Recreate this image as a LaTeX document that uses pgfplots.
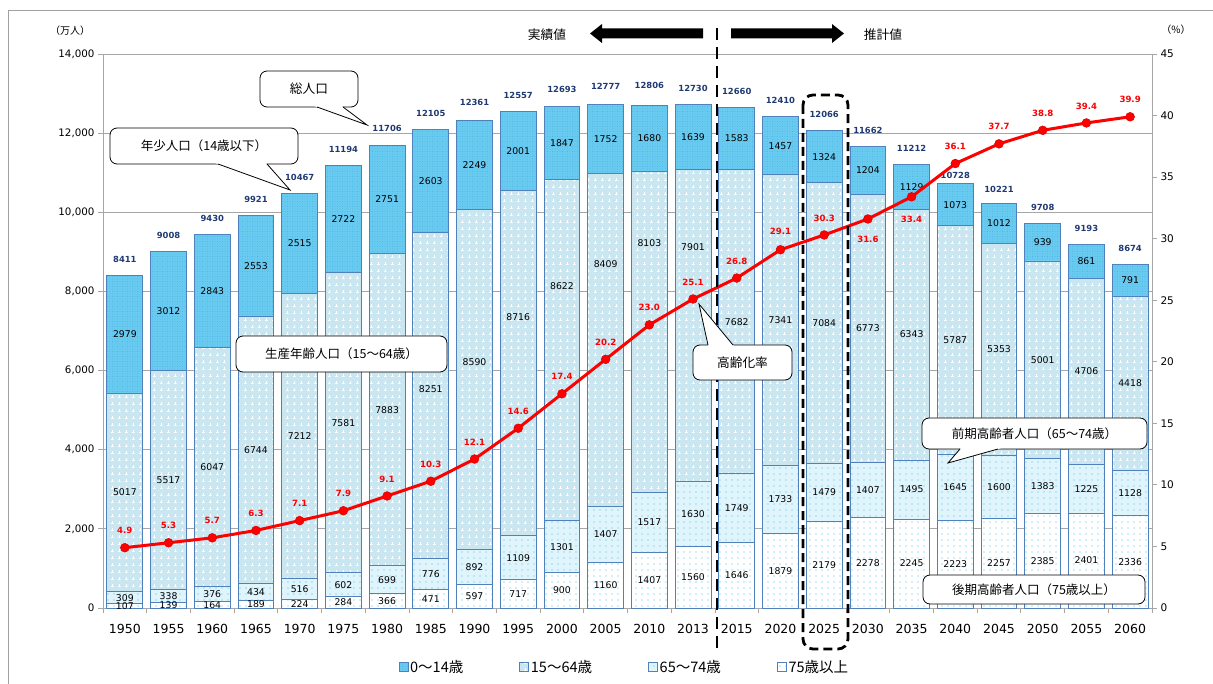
\documentclass[border=0pt]{standalone}
\usepackage{pgfplots}
\pgfplotsset{compat=1.18}
\usepackage{pgfplotstable}
\usetikzlibrary{patterns,calc}
\usepackage{fontspec}
\setmainfont{DejaVu Sans}
\newfontfamily\jp{Noto Sans CJK JP}

\definecolor{cA}{HTML}{6ACBF1}
\definecolor{cAd}{HTML}{3FA9DD}
\definecolor{cB}{HTML}{C9E6F1}
\definecolor{cC}{HTML}{E0F4FB}
\definecolor{cD}{HTML}{FFFFFF}
\definecolor{dotc}{HTML}{3DB8EC}
\definecolor{edge}{HTML}{4F81BD}
\definecolor{tot}{HTML}{1F3A73}
\definecolor{gridc}{HTML}{A6A6A6}
\definecolor{framec}{HTML}{A0A0A0}

\pgfdeclarepatternformonly{sdots}{\pgfqpoint{-1pt}{-1pt}}{\pgfqpoint{1pt}{1pt}}{\pgfqpoint{6pt}{6pt}}{%
  \pgfpathcircle{\pgfqpoint{0pt}{0pt}}{0.7pt}\pgfusepath{fill}}
\pgfdeclarepatternformonly{splus}{\pgfqpoint{-1.6pt}{-1.6pt}}{\pgfqpoint{1.6pt}{1.6pt}}{\pgfqpoint{7pt}{7pt}}{%
  \pgfsetlinewidth{0.5pt}\pgfpathmoveto{\pgfqpoint{-1.5pt}{0pt}}\pgfpathlineto{\pgfqpoint{1.5pt}{0pt}}%
  \pgfpathmoveto{\pgfqpoint{0pt}{-1.5pt}}\pgfpathlineto{\pgfqpoint{0pt}{1.5pt}}\pgfusepath{stroke}}
\pgfdeclarepatternformonly{fdots}{\pgfqpoint{-0.6pt}{-0.6pt}}{\pgfqpoint{0.6pt}{0.6pt}}{\pgfqpoint{2.5pt}{2.5pt}}{%
  \pgfpathcircle{\pgfqpoint{0pt}{0pt}}{0.45pt}\pgfusepath{fill}}

% a = 0-14, b = 15-64, c = 65-74, d = 75+, tot = total, rate = ageing rate (%)
% bo = label shift (pt) of the 15-64 label, ro = of the rate label, to = of the total label
\pgfplotstableread{
x year a b c d tot rate bo ro to
0 1950 2979 5017 309 107 8411 4.9 0 17 16
1 1955 3012 5517 338 139 9008 5.3 0 17 16
2 1960 2843 6047 376 164 9430 5.7 0 17 16
3 1965 2553 6744 434 189 9921 6.3 0 17 16
4 1970 2515 7212 516 224 10467 7.1 0 17 16
5 1975 2722 7581 602 284 11194 7.9 0 17 16
6 1980 2751 7883 699 366 11706 9.1 0 17 16
7 1985 2603 8251 776 471 12105 10.3 6 17 16
8 1990 2249 8590 892 597 12361 12.1 17 17 16
9 1995 2001 8716 1109 717 12557 14.6 46 17 16
10 2000 1847 8622 1301 900 12693 17.4 64 17 16
11 2005 1752 8409 1407 1160 12777 20.2 76 17 16
12 2010 1680 8103 1517 1407 12806 23.0 89 17 16
13 2013 1639 7901 1630 1560 12730 25.1 78 17 16
14 2015 1583 7682 1749 1646 12660 26.8 0 17 16
15 2020 1457 7341 1733 1879 12410 29.1 0 18 16
16 2025 1324 7084 1479 2179 12066 30.3 0 17 16
17 2030 1204 6773 1407 2278 11662 31.6 0 -20 16
18 2035 1129 6343 1495 2245 11212 33.4 0 -23 16
19 2040 1073 5787 1645 2223 10728 36.1 0 17 8
20 2045 1012 5353 1600 2257 10221 37.7 0 17 14
21 2050 939 5001 1383 2385 9708 38.8 0 17 16
22 2055 861 4706 1225 2401 9193 39.4 0 17 16
23 2060 791 4418 1128 2336 8674 39.9 0 17 16
}\data

\pgfplotsset{
  base/.style={at={(103pt,-608pt)}, anchor=south west,
    width=1049pt, height=554pt, scale only axis,
    xmin=-0.5, xmax=23.5},
  barsty/.style={draw=edge, line width=0.9pt},
  seglab/.style={draw=none, mark=none,
    every node near coord/.append style={font=\fontsize{9.3}{11}\selectfont, anchor=center}},
}

\newcommand\pointer[3]{%
  \fill[white] ($(#1)!-0.15!(#3)$) -- ($(#2)!-0.15!(#3)$) -- (#3) -- cycle;
  \draw[line width=0.8pt] (#1) -- (#3) -- (#2);}

\begin{document}
\begin{tikzpicture}
\useasboundingbox (0pt,0pt) rectangle (1213pt,-684pt);

% main stacked bars
\begin{axis}[base,
  ymin=0, ymax=14000,
  ybar stacked, bar width=0.82,
  axis x line*=bottom, axis y line*=left,
  axis line style={draw=gridc, line width=0.8pt},
  ytick={0,2000,...,14000}, scaled y ticks=false,
  /pgf/number format/assume math mode=true,
  /pgf/number format/1000 sep={,},
  ymajorgrids, major grid style={draw=gridc, line width=0.8pt},
  xtick={0,...,23}, xticklabels from table={\data}{year},
  major x tick style={draw=none},
  minor xtick={-0.5,0.5,...,23.5},
  minor x tick style={draw=gridc, line width=0.8pt},
  y tick style={draw=gridc, line width=0.8pt},
  tick align=outside, major tick length=5pt, minor tick length=5pt,
  xticklabel style={font=\fontsize{12.5}{14}\selectfont, yshift=-8pt},
  yticklabel style={font=\fontsize{10.3}{12}\selectfont},
  legend style={at={(0.497,-0.1065)}, anchor=center, draw=none, fill=none,
    legend columns=4, font=\jp\fontsize{14.5}{16}\selectfont,
    /tikz/every even column/.append style={column sep=54pt}},
  legend image code/.code={\draw[#1, line width=0.6pt] (0pt,-4.5pt) rectangle (9pt,4.5pt);},
  reverse legend,
]
\addplot[barsty, fill=cD, postaction={pattern=sdots, pattern color=dotc}] table[x=x,y=d]{\data};
\addplot[barsty, fill=cC, postaction={pattern=sdots, pattern color=dotc}] table[x=x,y=c]{\data};
\addplot[barsty, fill=cB, postaction={pattern=splus, pattern color=white}] table[x=x,y=b]{\data};
\addplot[barsty, fill=cA, postaction={pattern=fdots, pattern color=cAd}] table[x=x,y=a]{\data};
\legend{75歳以上, 65～74歳, 15～64歳, 0～14歳}
\end{axis}

% labels axis
\begin{axis}[base, ymin=0, ymax=14000, hide axis,
  point meta=explicit symbolic,
  nodes near coords]
\addplot[seglab] table[x=x, y expr=\thisrow{d}/2, meta=d]{\data};
\addplot[seglab] table[x=x, y expr=\thisrow{d}+\thisrow{c}/2, meta=c]{\data};
\addplot[seglab, visualization depends on={\thisrow{bo} \as \boff},
  every node near coord/.append style={yshift=\boff pt}]
  table[x=x, y expr=\thisrow{d}+\thisrow{c}+\thisrow{b}/2, meta=b]{\data};
\addplot[seglab] table[x=x, y expr=\thisrow{d}+\thisrow{c}+\thisrow{b}+\thisrow{a}/2, meta=a]{\data};
\addplot[draw=none, mark=none, visualization depends on={\thisrow{to} \as \toff},
  every node near coord/.append style={font=\bfseries\fontsize{8.4}{10}\selectfont, text=tot, anchor=center, yshift=\toff pt}]
  table[x=x, y=tot, meta=tot]{\data};
\end{axis}

% rate axis
\begin{axis}[base, ymin=0, ymax=45,
  axis x line=none, axis y line*=right,
  axis line style={draw=gridc, line width=0.8pt},
  ytick={0,5,...,45},
  /pgf/number format/assume math mode=true,
  y tick style={draw=gridc, line width=0.8pt},
  tick align=outside, major tick length=5pt,
  yticklabel style={font=\fontsize{10.5}{12}\selectfont},
]
\addplot[color=red, line width=3pt, mark=*, mark size=4.4pt,
  mark options={fill=red, draw=red!85!black, line width=0.5pt},
  point meta=explicit symbolic, nodes near coords,
  visualization depends on={\thisrow{ro} \as \roff},
  every node near coord/.append style={font=\bfseries\fontsize{8.6}{10}\selectfont, text=red, anchor=center, yshift=\roff pt}]
  table[x=x, y=rate, meta=rate]{\data};
\end{axis}

\begin{scope}[x=1pt, y=-1pt]
% frame
\draw[framec, line width=1pt] (8,684) -- (8,11) -- (1213,11);
% units
\node[font=\jp\fontsize{10}{12}\selectfont] at (70,31) {（万人）};
\node[font=\jp\fontsize{10}{12}\selectfont] at (1176,30) {（\%）};
% arrows
\fill (703,28.5) -- (602,28.5) -- (602,24) -- (590,33.5) -- (602,43) -- (602,38.5) -- (703,38.5) -- cycle;
\fill (731,28.5) -- (832,28.5) -- (832,24) -- (844,33.5) -- (832,43) -- (832,38.5) -- (731,38.5) -- cycle;
\node[font=\jp\fontsize{12.7}{14}\selectfont] at (547,35) {実績値};
\node[font=\jp\fontsize{12.7}{14}\selectfont] at (883,35) {推計値};
% dashed divider
\draw[line width=2.8pt, dash pattern=on 12pt off 7pt] (717,28) -- (717,648);
% 2025 box
\draw[line width=2.8pt, dash pattern=on 9pt off 5pt, rounded corners=10pt] (803,95) rectangle (848,649);

% callouts
\draw[fill=white, line width=0.8pt, rounded corners=7pt] (260,71) rectangle (358,107);
\pointer{317,107}{343,107}{367,125}
\node[font=\jp\fontsize{12.7}{14}\selectfont] at (309,89) {総人口};

\draw[fill=white, line width=0.8pt, rounded corners=7pt] (110,128) rectangle (298,164);
\pointer{218,164}{267,164}{290,190}
\node[font=\jp\fontsize{12.5}{14}\selectfont] at (204,146) {年少人口（14歳以下）};

\draw[fill=white, line width=0.8pt, rounded corners=7pt] (236,336) rectangle (447,372);
\node[font=\jp\fontsize{12.5}{14}\selectfont] at (341.5,354) {生産年齢人口（15～64歳）};

\draw[fill=white, line width=0.8pt, rounded corners=7pt] (693,345) rectangle (792,380);
\pointer{708,345}{733,345}{699,304}
\node[font=\jp\fontsize{12.7}{14}\selectfont] at (742.5,363) {高齢化率};

\draw[fill=white, line width=0.8pt, rounded corners=7pt] (922,418) rectangle (1147,449);
\pointer{960,449}{998,449}{948,463}
\node[font=\jp\fontsize{12.5}{14}\selectfont] at (1034.5,433.5) {前期高齢者人口（65～74歳）};

\draw[fill=white, line width=0.8pt, rounded corners=7pt] (923,575) rectangle (1145,604);
\node[font=\jp\fontsize{12.5}{14}\selectfont] at (1034,589.5) {後期高齢者人口（75歳以上）};
\end{scope}
\end{tikzpicture}
\end{document}
